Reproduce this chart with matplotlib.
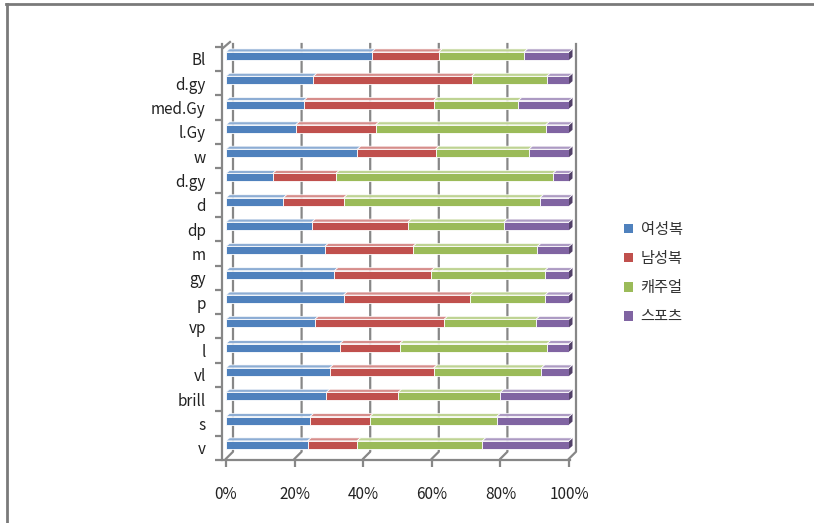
import matplotlib

matplotlib.use("Agg")
import matplotlib.pyplot as plt
import numpy as np
from matplotlib.colors import to_rgb
from matplotlib.lines import Line2D
from matplotlib.patches import Patch, Polygon
from matplotlib.transforms import ScaledTranslation

plt.rcParams["font.family"] = ["Noto Sans CJK KR", "DejaVu Sans"]

# tone categories, top to bottom
categories = ["Bl", "d.gy", "med.Gy", "l.Gy", "w", "d.gy", "d", "dp", "m",
              "gy", "p", "vp", "l", "vl", "brill", "s", "v"]
series_names = ["여성복", "남성복", "캐주얼", "스포츠"]

# share of each clothing type per tone (%)
womens = [42.5, 25.5, 22.7, 20.3, 38.3, 13.6, 16.7, 25.0, 28.8,
          31.6, 34.3, 25.9, 33.2, 30.2, 29.3, 24.5, 23.8]
mens = [19.5, 46.1, 37.8, 23.3, 22.8, 18.4, 17.6, 28.0, 25.7,
        28.2, 36.8, 37.7, 17.4, 30.3, 20.9, 17.4, 14.4]
casual = [24.9, 21.9, 24.7, 49.6, 27.2, 63.3, 57.2, 28.0, 36.3,
          33.1, 21.9, 26.8, 43.0, 31.4, 29.8, 37.0, 36.5]
sports = [13.1, 6.5, 14.8, 6.8, 11.7, 4.7, 8.5, 19.0, 9.2,
          7.1, 7.0, 9.6, 6.4, 8.1, 20.0, 21.1, 25.3]

colors = ["#4F81BD", "#C0504D", "#9BBB59", "#8064A2"]
xticks = [0, 20, 40, 60, 80, 100]


def shade(color, amount):
    rgb = np.array(to_rgb(color))
    if amount > 0:
        return tuple(rgb + (1 - rgb) * amount)
    return tuple(rgb * (1 + amount))


W, H = 814, 523
fig = plt.figure(figsize=(W / 100, H / 100), dpi=100)

# plot area in pixels
x0, x1 = 226, 569
y_top, y_bot = 44, 460
ax = fig.add_axes([x0 / W, 1 - y_bot / H, (x1 - x0) / W, (y_bot - y_top) / H])

n = len(categories)
ypos = np.arange(n)[::-1].astype(float)
ylim = (-0.57, n - 1 + 0.49)
ax.set_xlim(0, 100)
ax.set_ylim(*ylim)

# pixel -> data scale, used for the depth effect
sx = (x1 - x0) / 100.0
sy = (y_bot - y_top) / (ylim[1] - ylim[0])
depth_x, depth_y = 3.5 / sx, 3.0 / sy
wall_x, wall_y = 7.0 / sx, 7.0 / sy

# back wall gridlines with slanted floor segments
for v in xticks:
    ax.add_line(Line2D([v, v + wall_x, v + wall_x],
                       [ylim[0], ylim[0] + wall_y, ylim[1]],
                       color="#878787", lw=1.6, zorder=1, clip_on=False))

bar_h = 8.0 / sy
data = [womens, mens, casual, sports]
left = np.zeros(n)
for vals, col in zip(data, colors):
    vals = np.asarray(vals)
    ax.barh(ypos, vals, left=left, height=bar_h, color=col,
            edgecolor="white", linewidth=0.6, zorder=3)
    top_col = shade(col, 0.35)
    for y, l, w in zip(ypos, left, vals):
        yt = y + bar_h / 2
        ax.add_patch(Polygon([(l, yt), (l + w, yt), (l + w + depth_x, yt + depth_y),
                              (l + depth_x, yt + depth_y)], closed=True,
                             facecolor=top_col, edgecolor="white", lw=0.5,
                             zorder=2.9, clip_on=False))
    left = left + vals

# dark side face at the right end of every bar
for y, total in zip(ypos, left):
    yb, yt = y - bar_h / 2, y + bar_h / 2
    ax.add_patch(Polygon([(total, yb), (total, yt), (total + depth_x, yt + depth_y),
                          (total + depth_x, yb + depth_y)], closed=True,
                         facecolor=shade(colors[3], -0.35), edgecolor="none",
                         zorder=2.8, clip_on=False))

# axes styling
for side in ("top", "right"):
    ax.spines[side].set_visible(False)
ax.spines["left"].set_position(("outward", 3))
ax.spines["left"].set_color("#878787")
ax.spines["bottom"].set_color("#878787")
ax.spines["left"].set_linewidth(1.6)
ax.spines["bottom"].set_linewidth(1.6)
ax.spines["bottom"].set_bounds(-3 / sx, 100 + 1 / sx)

ax.set_xticks(xticks)
ax.set_xticklabels([f"{v}%" for v in xticks])
ax.tick_params(axis="x", length=5, width=1.6, color="#878787", pad=14,
               labelsize=11, labelcolor="#222222")

ax.set_yticks(ypos)
ax.set_yticklabels(categories)
ax.set_yticks(np.arange(-0.5, n, 1.0) - 3 / sy, minor=True)
ax.tick_params(axis="y", which="major", length=0, pad=11.5, labelsize=11,
               labelcolor="#222222")
ax.tick_params(axis="y", which="minor", length=5, width=1.6, color="#878787")
for lab in ax.get_yticklabels():
    lab.set_transform(lab.get_transform() + ScaledTranslation(0, -0.03, fig.dpi_scale_trans))

# small fold at the top of the side wall
ax.add_line(Line2D([-3 / sx, -3 / sx + wall_x], [ylim[1] - 4 / sy, ylim[1] + 2 / sy],
                   color="#878787", lw=1.6, clip_on=False))

handles = [Patch(facecolor=c, edgecolor="none") for c in colors]
fig.legend(handles, series_names, loc="upper left", bbox_to_anchor=(610 / W, 1 - 207 / H),
           frameon=False, fontsize=11, handlelength=0.6, handleheight=0.6,
           handletextpad=0.5, labelspacing=0.8, labelcolor="#333333")

# outer frame (top and left edges)
fig.add_artist(Line2D([6 / W, 1], [1 - 4 / H, 1 - 4 / H], color="#7a7a7a", lw=2,
                      transform=fig.transFigure))
fig.add_artist(Line2D([7 / W, 7 / W], [0, 1 - 4 / H], color="#7a7a7a", lw=2,
                      transform=fig.transFigure))

fig.savefig("out.png", dpi=100)
